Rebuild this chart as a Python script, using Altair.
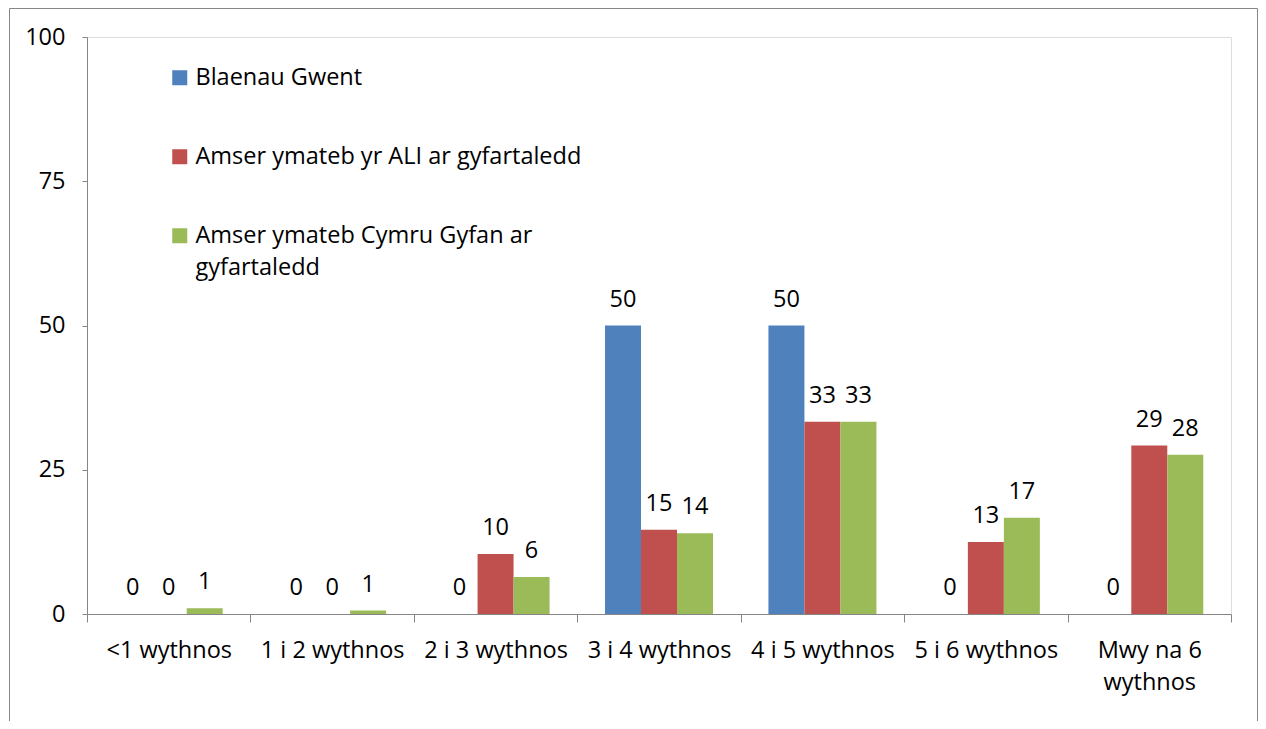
import altair as alt
import pandas as pd

categories = ["<1 wythnos", "1 i 2 wythnos", "2 i 3 wythnos", "3 i 4 wythnos",
              "4 i 5 wythnos", "5 i 6 wythnos", "Mwy na 6 wythnos"]
series = ["Blaenau Gwent", "Amser ymateb yr ALI ar gyfartaledd",
          "Amser ymateb Cymru Gyfan ar gyfartaledd"]
blaenau_gwent = [0, 0, 0, 50, 50, 0, 0]
ali_average = [0, 0, 10.4, 14.6, 33.3, 12.5, 29.2]
wales_average = [1.0, 0.6, 6.4, 14.0, 33.3, 16.7, 27.6]
y_ticks = [0, 25, 50, 75, 100]
colors = ["#4F81BD", "#C0504D", "#9BBB59"]

rows = []
for s, vals in zip(series, [blaenau_gwent, ali_average, wales_average]):
    for c, v in zip(categories, vals):
        rows.append({"category": c, "series": s, "value": v})
df = pd.DataFrame(rows)

FONT = "Open Sans"
FS = 23.5
W, H = 1144, 577
AXIS_GREY = "#868686"

x = alt.X(
    "category:N", sort=categories,
    scale=alt.Scale(paddingInner=0, paddingOuter=0),
    axis=alt.Axis(
        title=None, labelAngle=0, tickBand="extent", tickSize=8, labelPadding=16,
        labelFontSize=FS, labelFont=FONT, labelColor="black",
        domainColor=AXIS_GREY, tickColor=AXIS_GREY, labelBaseline="top",
        labelLineHeight=32, labelLimit=0,
        labelExpr="datum.label == 'Mwy na 6 wythnos' ? ['Mwy na 6', 'wythnos'] : datum.label",
    ),
)
xo = alt.XOffset("series:N", sort=series,
                 scale=alt.Scale(paddingInner=0, paddingOuter=0.77))
y = alt.Y(
    "value:Q", scale=alt.Scale(domain=[0, 100]),
    axis=alt.Axis(
        values=y_ticks, grid=False, title=None, tickSize=5, labelPadding=17,
        labelFontSize=FS, labelFont=FONT, labelColor="black",
        domainColor=AXIS_GREY, tickColor=AXIS_GREY,
    ),
)
color = alt.Color(
    "series:N", sort=series,
    scale=alt.Scale(domain=series, range=colors),
    legend=alt.Legend(
        title=None, orient="none", legendX=81, legendY=29,
        symbolType="square", symbolSize=225, symbolStrokeWidth=0,
        labelFontSize=FS, labelFont=FONT, labelColor="black", labelLimit=0,
        rowPadding=54, labelOffset=4,
        labelExpr="datum.label == 'Amser ymateb Cymru Gyfan ar gyfartaledd' ? ['Amser ymateb Cymru Gyfan ar', 'gyfartaledd'] : datum.label",
    ),
)

base = alt.Chart(df)
bars = base.mark_bar().encode(x=x, xOffset=xo, y=y, color=color)
labels = base.mark_text(dy=-19, baseline="alphabetic", fontSize=FS, font=FONT,
                        color="black").encode(
    x=x, xOffset=xo, y=y, text=alt.Text("value:Q", format=".0f"))

border = alt.Chart(pd.DataFrame({"a": [0]})).mark_rect(
    filled=False, stroke=AXIS_GREY, strokeWidth=1).encode(
    x=alt.value(-77.5), x2=alt.value(1170.5), y=alt.value(-28.5), y2=alt.value(900))

chart = alt.layer(bars, labels, border).properties(
    width=W, height=H,
    padding={"left": 79, "top": 29, "right": 27, "bottom": 107},
    autosize=alt.AutoSizeParams(type="none"),
).configure_view(stroke=None).configure(style={"guide-label": {"lineHeight": 32}})

chart.save("out.html", embed_options={"renderer": "svg", "actions": False})
